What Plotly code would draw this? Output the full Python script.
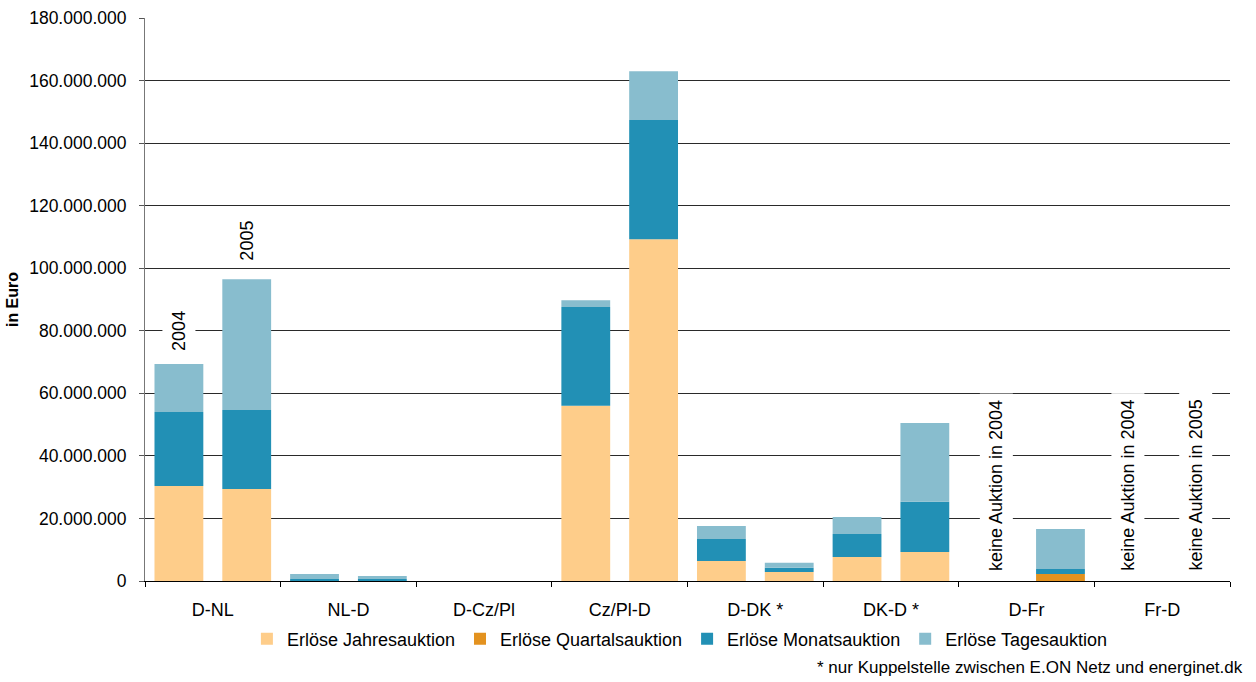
import plotly.graph_objects as go

# Auction revenues per interconnector, in million euro (2004 / 2005)
categories = ["D-NL", "NL-D", "D-Cz/Pl", "Cz/Pl-D", "D-DK *", "DK-D *", "D-Fr", "Fr-D"]
years = ["2004", "2005"]

jahres_2004 = [30.4, 0.3, 0, 56.0, 6.4, 7.7, 0, 0]
jahres_2005 = [29.4, 0.0, 0, 109.3, 2.9, 9.3, 0, 0]
quartal_2004 = [0, 0, 0, 0, 0, 0, 0, 0]
quartal_2005 = [0, 0, 0, 0, 0, 0, 2.2, 0]
monats_2004 = [23.6, 0.3, 0, 31.6, 7.0, 7.3, 0, 0]
monats_2005 = [25.3, 0.6, 0, 38.1, 1.3, 16.0, 1.6, 0]
tages_2004 = [15.4, 1.6, 0, 2.2, 4.2, 5.5, 0, 0]
tages_2005 = [41.8, 1.0, 0, 15.6, 1.6, 25.2, 12.8, 0]

series = [
    ("Erlöse Jahresauktion", "#FECD8A", jahres_2004, jahres_2005),
    ("Erlöse Quartalsauktion", "#E3921F", quartal_2004, quartal_2005),
    ("Erlöse Monatsauktion", "#2290B5", monats_2004, monats_2005),
    ("Erlöse Tagesauktion", "#88BDCE", tages_2004, tages_2005),
]

# year labels above the D-NL bars: (x position, y in million euro, text)
year_labels = [(0.25, 71.3, "2004"), (0.75, 100.1, "2005")]
# markers for interconnectors without an auction
no_auction = [(6.28, "keine Auktion in 2004"), (7.25, "keine Auktion in 2004"),
              (7.75, "keine Auktion in 2005")]

FONT = "Liberation Sans, Arial, sans-serif"
MIO = 1e6

n = len(categories)
x_2004 = [i + 0.25 for i in range(n)]
x_2005 = [i + 0.75 for i in range(n)]

fig = go.Figure()
for name, color, v04, v05 in series:
    fig.add_trace(go.Bar(
        x=x_2004 + x_2005,
        y=[v * MIO for v in v04 + v05],
        name=name,
        marker=dict(color=color, line=dict(width=0)),
        width=0.36,
        hovertemplate="%{y:,.0f}<extra>" + name + "</extra>",
    ))

annotations = []
for x, y, txt in year_labels:
    annotations.append(dict(
        x=x, y=y * MIO, xref="x", yref="y", text=txt, textangle=-90,
        showarrow=False, xanchor="center", yanchor="bottom",
        font=dict(family=FONT, size=18, color="#000"),
        bgcolor="white", borderpad=6,
    ))
for x, txt in no_auction:
    annotations.append(dict(
        x=x, y=1.0 * MIO, xref="x", yref="y", text=txt, textangle=-90,
        showarrow=False, xanchor="center", yanchor="bottom",
        font=dict(family=FONT, size=18, color="#000"),
        bgcolor="white", borderpad=6,
    ))
annotations.append(dict(
    x=1.0142, y=-0.1545, xref="paper", yref="paper",
    text="* nur Kuppelstelle zwischen E.ON Netz und energinet.dk",
    showarrow=False, xanchor="right", yanchor="middle",
    font=dict(family=FONT, size=17, color="#000"),
))

fig.update_layout(
    width=1256, height=682,
    margin=dict(l=145, r=26, t=18, b=101, autoexpand=False),
    paper_bgcolor="white", plot_bgcolor="white",
    barmode="relative",
    separators=",.",
    font=dict(family=FONT, size=18, color="#000"),
    showlegend=True,
    legend=dict(
        orientation="h", x=0.493, xanchor="center", y=-0.103, yanchor="middle",
        font=dict(family=FONT, size=18, color="#000"),
        traceorder="normal", itemwidth=30, tracegroupgap=0,
    ),
    annotations=annotations,
    xaxis=dict(
        range=[0, n], tickmode="array",
        tickvals=[i + 0.5 for i in range(n)], ticktext=categories,
        ticks="", ticklabelstandoff=12, automargin=False,
        tickfont=dict(family=FONT, size=18, color="#000"),
        showline=True, linecolor="#000", linewidth=1,
        showgrid=False, zeroline=False, fixedrange=True,
        minor=dict(tickmode="linear", tick0=0, dtick=1, ticks="outside",
                   ticklen=5, tickcolor="#000", tickwidth=1, showgrid=False),
    ),
    yaxis=dict(
        range=[0, 180 * MIO], tickmode="linear", tick0=0, dtick=20 * MIO,
        tickformat=",.0f", automargin=False,
        ticks="outside", ticklen=5, tickcolor="#555", tickwidth=1,
        ticklabelstandoff=9,
        tickfont=dict(family=FONT, size=17.5, color="#000"),
        showline=True, linecolor="#777", linewidth=1,
        showgrid=True, gridcolor="#2a2a2a", gridwidth=1,
        zeroline=False, fixedrange=True,
        title=dict(text="<b>in Euro</b>", standoff=6,
                   font=dict(family=FONT, size=16, color="#000")),
    ),
)

fig.write_html("out.html")
